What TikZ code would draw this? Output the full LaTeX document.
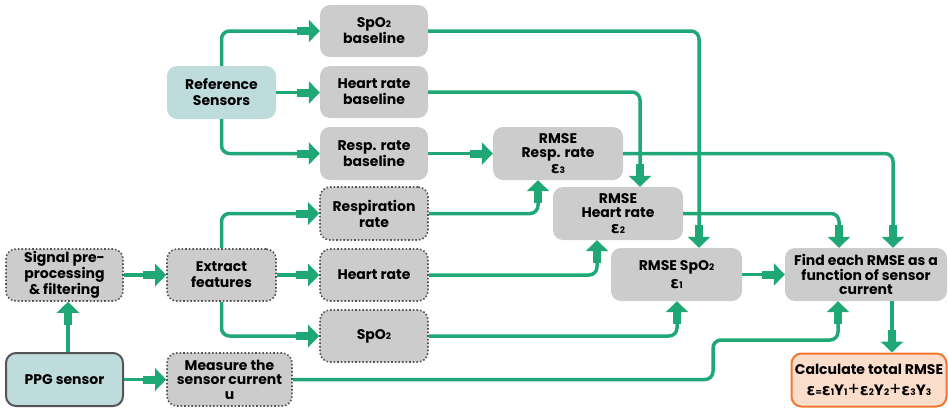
\documentclass[tikz,border=0pt]{standalone}
\usepackage{fontspec}
\setmainfont{Poppins}
\newfontfamily\grk{DejaVu Sans}
\usetikzlibrary{arrows.meta,calc}
\definecolor{grn}{HTML}{1FA776}
\definecolor{boxgray}{HTML}{CCCCCC}
\definecolor{teal}{HTML}{BFDCDC}
\definecolor{bord}{HTML}{555555}
\definecolor{orng}{HTML}{F07830}
\definecolor{peach}{HTML}{FBDDCB}
\newcommand\sbn[1]{{\fontsize{9}{9}\selectfont #1}}
\newcommand\eps{{\grk\bfseries\fontsize{16}{12}\selectfont ε}}
\tikzset{
  base/.style={rounded corners=10pt, inner sep=2pt, align=center, font=\bfseries\fontsize{14}{16}\selectfont},
  gbox/.style={base, fill=boxgray},
  dbox/.style={base, fill=boxgray, draw=bord, line width=1.6pt, dotted},
  tbox/.style={base, fill=teal},
  pbox/.style={base, fill=teal, draw=bord, line width=2pt},
  obox/.style={base, fill=peach, draw=orng, line width=2pt},
  arr/.style={draw=grn, line width=3.5pt, rounded corners=8pt,
    -{Rectangle[length=12pt,width=8pt]Triangle[length=11pt,width=22pt]}},
  tight/.style={font=\bfseries\fontsize{14}{14.5}\selectfont},
  mid/.style={font=\bfseries\fontsize{14}{14.5}\selectfont},
}
\begin{document}
\begin{tikzpicture}[x=1pt,y=-1pt]
\useasboundingbox (0,0) rectangle (948,410);
% nodes
\node[gbox, minimum width=108pt, minimum height=52pt] (spb) at (374,31) {SpO\sbn{2}\\baseline};
\node[gbox, minimum width=108pt, minimum height=52pt] (hrb) at (374,92) {Heart rate\\baseline};
\node[gbox, minimum width=108pt, minimum height=53pt] (rrb) at (374,153.5) {Resp. rate\\baseline};
\node[tbox, minimum width=109pt, minimum height=53pt] (ref) at (221.5,92.5) {Reference\\Sensors};
\node[dbox, minimum width=108pt, minimum height=53pt] (resp) at (374,213.5) {Respiration\\rate};
\node[dbox, minimum width=108pt, minimum height=52pt] (hr) at (374,275) {Heart rate};
\node[dbox, minimum width=108pt, minimum height=52pt] (spo) at (374,336) {SpO\sbn{2}};
\node[dbox, mid, minimum width=117pt, minimum height=52pt] (sig) at (64.5,275) {Signal pre-\\processing\\\& filtering};
\node[dbox, minimum width=109pt, minimum height=52pt] (ext) at (221.5,275) {Extract\\features};
\node[pbox, minimum width=117pt, minimum height=53pt] (ppg) at (64.5,379.5) {PPG sensor};
\node[dbox, mid, minimum width=125pt, minimum height=53pt] (meas) at (229.5,379.5) {Measure the\\sensor current\\u};
\node[gbox, tight, minimum width=130pt, minimum height=53pt] (rmr) at (558,153.5) {RMSE\\Resp. rate\\[1pt]\eps\sbn{3}};
\node[gbox, tight, minimum width=130pt, minimum height=53pt] (rmh) at (618,213.5) {RMSE\\Heart rate\\[1pt]\eps\sbn{2}};
\node[gbox, font=\bfseries\fontsize{14}{17}\selectfont, minimum width=131pt, minimum height=53pt] (rms) at (676.5,274.5) {RMSE SpO\sbn{2}\hspace{10pt}\\[1pt]\eps\sbn{1}\hspace{10pt}};
\node[gbox, mid, minimum width=162pt, minimum height=53pt] (find) at (866,274.5) {Find each RMSE as a\\function of sensor\\current};
\node[obox, font=\bfseries\fontsize{14}{21}\selectfont, minimum width=155pt, minimum height=53pt] (calc) at (869,380) {Calculate total RMSE\\\eps\sbn{=}\eps\sbn{1}{\fontsize{15}{15}\selectfont Y}\sbn{1}{\mdseries\fontsize{18}{18}\selectfont +}\eps\sbn{2}{\fontsize{15}{15}\selectfont Y}\sbn{2}{\mdseries\fontsize{18}{18}\selectfont +}\eps\sbn{3}{\fontsize{15}{15}\selectfont Y}\sbn{3}};
\coordinate (jog) at (713,340);
% connectors
\draw[arr] (ref.north) |- (spb.west);
\draw[arr] (ref) -- (spb.west |- ref);
\draw[arr] (ref.south) |- (rrb.west);
\draw[arr] (rrb) -- (rmr);
\draw[arr] (spb.east) -| ([xshift=22.5pt]rms.north);
\draw[arr] (hrb.east) -| ([xshift=22pt]rmh.north);
\draw[arr] (rmr.east) -| ([xshift=27pt]find.north);
\draw[arr] (rmh.east) -| ([xshift=-27pt]find.north);
\draw[arr] (rms) -- (find);
\draw[arr] ([xshift=26pt]find.south) -- ([xshift=26pt]find.south |- calc.north);
\draw[arr] (meas.east) -| (jog) -| ([xshift=-28pt]find.south);
\draw[arr] (resp.east) -| ([xshift=-20pt]rmr.south);
\draw[arr] (hr.east) -| ([xshift=-21pt]rmh.south);
\draw[arr] (spo.east) -| ([xshift=0.5pt]rms.south);
\draw[arr] (ext.north) |- (resp.west);
\draw[arr] (ext) -- (hr);
\draw[arr] (ext.south) |- (spo.west);
\draw[arr] (sig) -- (ext);
\draw[arr] ([xshift=3.5pt]ppg.north) -- ([xshift=3.5pt]sig.south);
\draw[arr] (ppg) -- (meas);
\end{tikzpicture}
\end{document}
